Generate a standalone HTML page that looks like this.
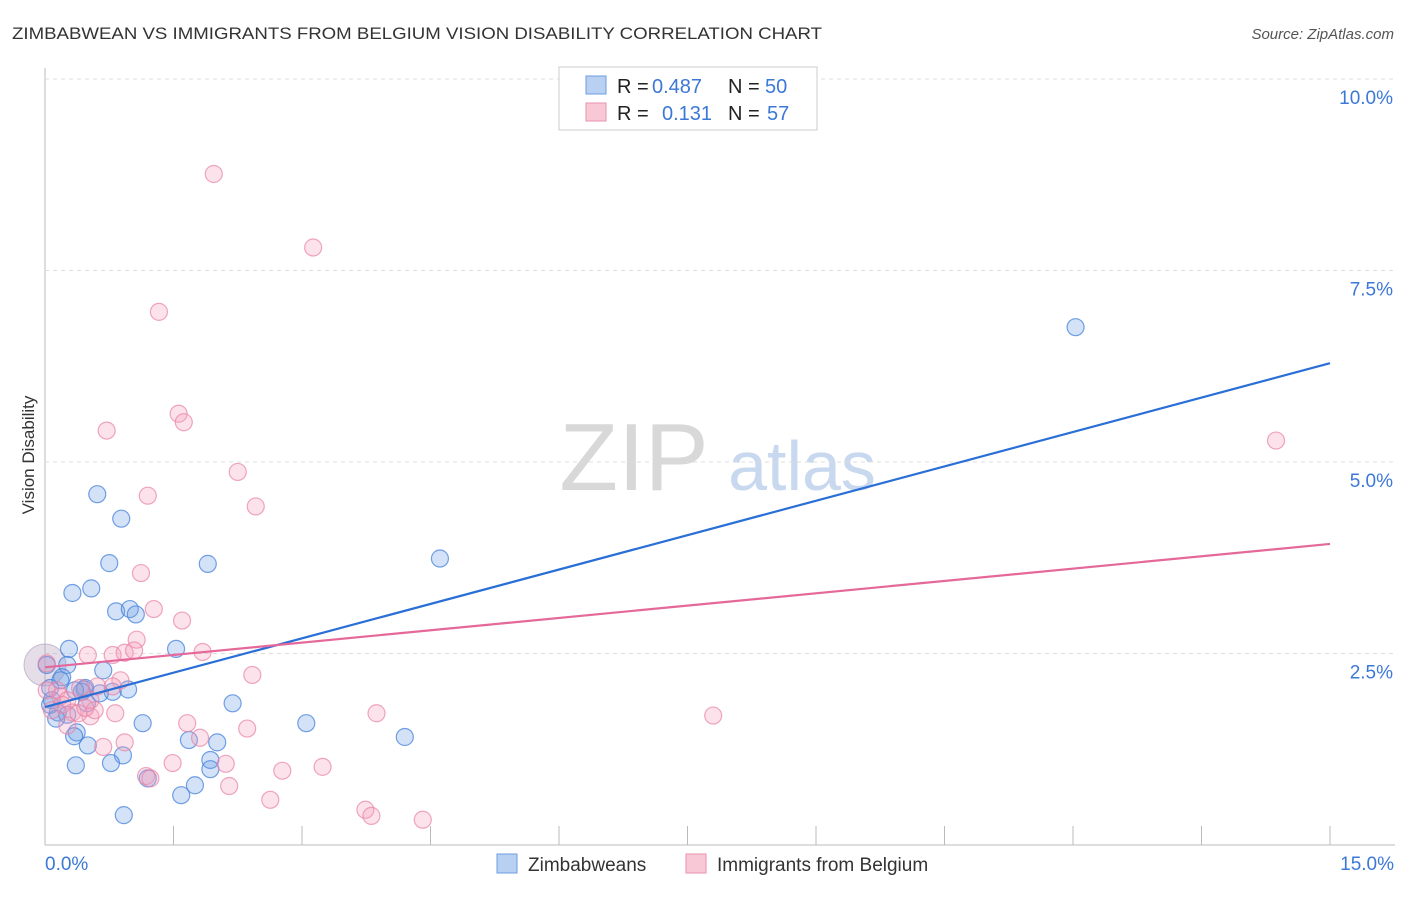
<!DOCTYPE html>
<html><head><meta charset="utf-8"><style>
body{margin:0;background:#fff;font-family:"Liberation Sans",sans-serif;}
svg text{font-family:"Liberation Sans",sans-serif;}
</style></head><body>
<svg id="chart" width="1406" height="892">
<text x="12" y="39" font-size="17" fill="#333" textLength="810" lengthAdjust="spacingAndGlyphs">ZIMBABWEAN VS IMMIGRANTS FROM BELGIUM VISION DISABILITY CORRELATION CHART</text>
<text x="1394" y="39" font-size="15" fill="#555" font-style="italic" text-anchor="end">Source: ZipAtlas.com</text>
<text x="34" y="455" font-size="17" fill="#333" transform="rotate(-90 34 455)" text-anchor="middle">Vision Disability</text>
<g><text x="634" y="490" font-size="96" font-family="Liberation Serif,serif" fill="#d8d8d8" text-anchor="middle">ZIP</text><text x="802" y="490" font-size="70" fill="#c8d8ef" text-anchor="middle">atlas</text></g>
<g id="grid"></g>
<g id="pts"></g>
<g id="trend"></g>
<g font-size="20">
<rect x="559" y="67" width="258" height="63" fill="#fff" stroke="#ccc"/>
<rect x="586" y="76" width="20" height="18" fill="#b8d0f2" stroke="#6d9de0"/>
<rect x="586" y="103" width="20" height="18" fill="#f9c8d6" stroke="#e893ad"/>
<text x="617" y="93" fill="#222">R =</text><text x="652" y="93" fill="#3b78d8">0.487</text>
<text x="728" y="93" fill="#222">N =</text><text x="765" y="93" fill="#3b78d8">50</text>
<text x="617" y="120" fill="#222">R =</text><text x="662" y="120" fill="#3b78d8">0.131</text>
<text x="728" y="120" fill="#222">N =</text><text x="767" y="120" fill="#3b78d8">57</text>
</g>
<g>
<rect x="497" y="854" width="20" height="19" fill="#b8d0f2" stroke="#6d9de0"/>
<text x="528" y="871" font-size="19" fill="#333">Zimbabweans</text>
<rect x="686" y="854" width="20" height="19" fill="#f9c8d6" stroke="#e893ad"/>
<text x="717" y="871" font-size="19" fill="#333">Immigrants from Belgium</text>
</g>
</svg>
<script>
const yTicks=[2.5,5.0,7.5,10.0];
const yTickLabels=["2.5%","5.0%","7.5%","10.0%"];
const xTickLabels=["0.0%","15.0%"];
const blueX=[0.61,0.89,0.75,1.90,4.61,0.32,0.54,0.83,0.99,1.06,1.53,0.28,0.26,0.68,0.20,0.06,0.46,0.47,0.43,0.97,0.79,0.08,0.15,0.26,0.13,0.49,0.64,1.14,3.05,2.19,4.20,0.50,0.37,0.34,0.91,0.77,0.36,2.01,1.68,1.93,1.93,1.20,1.75,1.59,0.92,12.03,0.02,0.18,0.35,0.06];
const blueY=[4.58,4.26,3.68,3.67,3.74,3.29,3.35,3.05,3.08,3.01,2.56,2.56,2.35,2.28,2.19,2.05,2.03,2.05,2.00,2.03,2.00,1.89,1.73,1.70,1.65,1.85,1.98,1.59,1.59,1.85,1.41,1.30,1.47,1.42,1.17,1.07,1.04,1.34,1.37,1.11,0.99,0.87,0.78,0.65,0.39,6.76,2.35,2.15,2.02,1.83];
const pinkX=[1.97,3.13,1.33,1.56,1.62,0.72,2.25,1.20,2.46,1.12,1.27,1.60,1.07,0.79,0.93,1.04,0.50,1.84,2.42,0.88,0.61,0.79,0.41,0.14,0.02,0.18,0.26,0.53,0.32,0.08,0.53,0.82,1.66,1.81,2.36,3.87,7.80,0.93,0.68,0.26,0.39,1.49,2.11,2.77,3.24,1.18,1.23,2.15,2.63,3.74,3.81,4.41,14.37,0.02,0.20,0.58,0.47];
const pinkY=[8.76,7.80,6.96,5.63,5.52,5.41,4.87,4.56,4.42,3.55,3.08,2.93,2.68,2.48,2.51,2.54,2.48,2.52,2.22,2.15,2.07,2.07,2.05,2.02,2.02,1.94,1.89,1.89,1.73,1.76,1.68,1.72,1.59,1.40,1.52,1.72,1.69,1.34,1.28,1.56,1.72,1.07,1.06,0.97,1.02,0.90,0.87,0.77,0.59,0.46,0.38,0.33,5.28,2.37,1.83,1.76,1.79];
const blueTrend=[1.80,6.29];
const pinkTrend=[2.32,3.93];
const NS="http://www.w3.org/2000/svg";
const X0=45,X1=1330,Y0=845,Y10=79;
const xs=v=>X0+(X1-X0)*v/15;
const ys=v=>Y0-(Y0-Y10)*v/10;
function mk(t,a,p){const e=document.createElementNS(NS,t);for(const k in a)e.setAttribute(k,a[k]);p.appendChild(e);return e;}
const grid=document.getElementById('grid');
const ax=mk('line',{x1:45,y1:68,x2:45,y2:845,stroke:'#bbb'},grid);


const bx=mk('line',{x1:45,y1:845,x2:1395,y2:845,stroke:'#bbb'},grid);


yTicks.forEach((v,i)=>{
 const g=mk('line',{x1:45,x2:1395,y1:ys(v),y2:ys(v),stroke:'#ddd','stroke-dasharray':'4,4'},grid);
 
 
 const t=mk('text',{x:1393,y:ys(v)+25,'font-size':19,fill:'#3b78d8','text-anchor':'end'},grid);
 t.textContent=yTickLabels[i];
 
 
});
for(let i=1;i<=10;i++){
 const tk=mk('line',{x1:xs(i*1.5),x2:xs(i*1.5),y1:826,y2:845,stroke:'#bbb'},grid);
 
 
}
[[0,'start',45],[1,'end',1394]].forEach(([i,a,x])=>{
 const t=mk('text',{x:x,y:870,'font-size':19,fill:'#3b78d8','text-anchor':a},grid);
 t.textContent=xTickLabels[i];
 
 
});
const pts=document.getElementById('pts');
const big=mk('circle',{cx:xs(0),cy:ys(2.35),r:21,fill:'rgba(180,160,190,0.35)',stroke:'rgba(170,150,180,0.6)'},pts);


blueX.forEach((v,i)=>{
 const c=mk('circle',{cx:xs(v),cy:ys(blueY[i]),r:8.5,fill:'rgba(110,160,230,0.3)',stroke:'rgba(70,130,220,0.75)','stroke-width':1.2},pts);
 
 
});
pinkX.forEach((v,i)=>{
 const c=mk('circle',{cx:xs(v),cy:ys(pinkY[i]),r:8.5,fill:'rgba(245,160,190,0.3)',stroke:'rgba(232,130,165,0.7)','stroke-width':1.2},pts);
 
 
});
const tr=document.getElementById('trend');
const bl=mk('line',{x1:xs(0),y1:ys(blueTrend[0]),x2:xs(15),y2:ys(blueTrend[1]),stroke:'#2a6fd6','stroke-width':2.2},tr);


const pl=mk('line',{x1:xs(0),y1:ys(pinkTrend[0]),x2:xs(15),y2:ys(pinkTrend[1]),stroke:'#e5689a','stroke-width':2.2},tr);


</script>
</body></html>
